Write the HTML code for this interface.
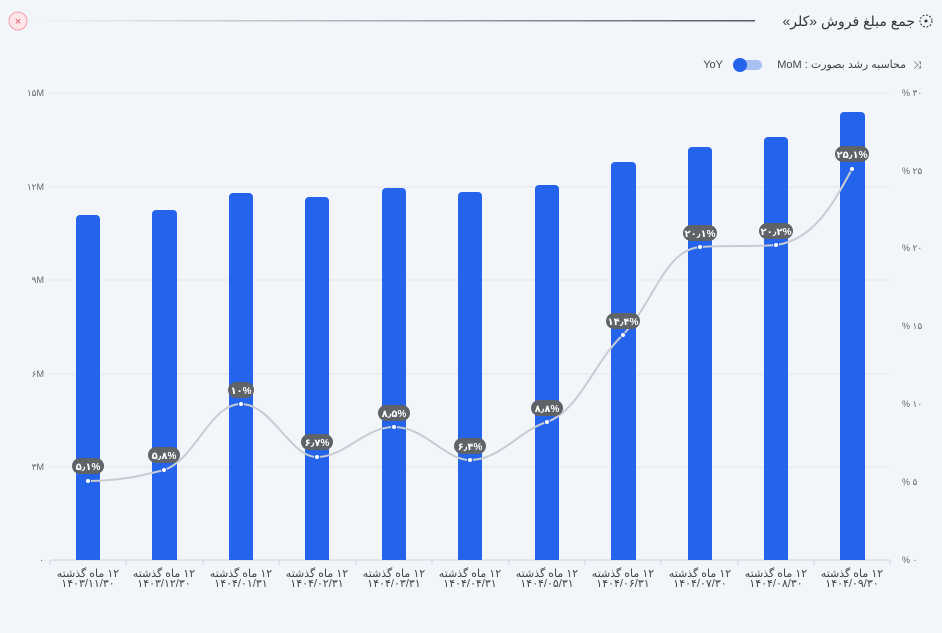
<!DOCTYPE html><html><head><meta charset="utf-8"><style>
body{margin:0;background:#f2f5f9;width:942px;height:628px;overflow:hidden;font-family:"Liberation Sans","DejaVu Sans",sans-serif}
</style></head><body>
<svg width="942" height="628" viewBox="0 0 942 628" font-family="Liberation Sans, DejaVu Sans, sans-serif">
<defs><linearGradient id="g" x1="0" x2="1"><stop offset="0" stop-color="#f2f5f9"/><stop offset="1" stop-color="#555b66"/></linearGradient></defs>
<circle cx="18" cy="21" r="9" fill="#fde5e8" stroke="#f0a0ab"/>
<text x="18" y="25" text-anchor="middle" font-size="11" fill="#e05060">×</text>
<rect x="30" y="20" width="725" height="1.5" fill="url(#g)"/>
<text x="915" y="26" direction="rtl" text-anchor="start" font-size="14" fill="#333">جمع مبلغ فروش «کلر»</text>
<circle cx="926" cy="21" r="6" fill="none" stroke="#333" stroke-dasharray="2 1.5"/><circle cx="926" cy="21" r="1.5" fill="#333"/>
<text x="906" y="68" direction="rtl" text-anchor="start" font-size="11" fill="#444">محاسبه رشد بصورت : MoM</text>
<text x="917" y="68" text-anchor="middle" font-size="10" fill="#444">⤨</text>
<rect x="735" y="60" width="27" height="10" rx="5" fill="#a9c0f3"/><circle cx="740" cy="65" r="7" fill="#2463eb"/>
<text x="723" y="68" text-anchor="end" font-size="11" fill="#444">YoY</text>
<g stroke="#e2e6ec" stroke-width="1">
<line x1="50" x2="890" y1="93" y2="93"/><line x1="50" x2="890" y1="187" y2="187"/><line x1="50" x2="890" y1="280" y2="280"/><line x1="50" x2="890" y1="374" y2="374"/><line x1="50" x2="890" y1="467" y2="467"/></g>
<line x1="50" x2="890" y1="560" y2="560" stroke="#cfd5de"/>
<g stroke="#cfd5de"><line x1="50" x2="50" y1="560" y2="565"/><line x1="126" x2="126" y1="560" y2="565"/><line x1="203" x2="203" y1="560" y2="565"/><line x1="279" x2="279" y1="560" y2="565"/><line x1="356" x2="356" y1="560" y2="565"/><line x1="432" x2="432" y1="560" y2="565"/><line x1="509" x2="509" y1="560" y2="565"/><line x1="585" x2="585" y1="560" y2="565"/><line x1="661" x2="661" y1="560" y2="565"/><line x1="738" x2="738" y1="560" y2="565"/><line x1="814" x2="814" y1="560" y2="565"/><line x1="890" x2="890" y1="560" y2="565"/></g>
<g font-size="9" fill="#666" text-anchor="end">
<text x="44" y="96">۱۵M</text><text x="44" y="190">۱۲M</text><text x="44" y="283">۹M</text><text x="44" y="377">۶M</text><text x="44" y="470">۳M</text><text x="44" y="563">۰</text></g>
<g font-size="9" fill="#666" text-anchor="start">
<text x="902" y="96">% ۳۰</text><text x="902" y="174">% ۲۵</text><text x="902" y="251">% ۲۰</text><text x="902" y="329">% ۱۵</text><text x="902" y="407">% ۱۰</text><text x="902" y="485">% ۵</text><text x="902" y="563">% ۰</text></g>
<g fill="#2463eb">
<path d="M76 560V219a4 4 0 0 1 4-4h16a4 4 0 0 1 4 4V560z"/>
<path d="M152 560V214a4 4 0 0 1 4-4h17a4 4 0 0 1 4 4V560z"/>
<path d="M229 560V197a4 4 0 0 1 4-4h16a4 4 0 0 1 4 4V560z"/>
<path d="M305 560V201a4 4 0 0 1 4-4h16a4 4 0 0 1 4 4V560z"/>
<path d="M382 560V192a4 4 0 0 1 4-4h16a4 4 0 0 1 4 4V560z"/>
<path d="M458 560V196a4 4 0 0 1 4-4h16a4 4 0 0 1 4 4V560z"/>
<path d="M535 560V189a4 4 0 0 1 4-4h16a4 4 0 0 1 4 4V560z"/>
<path d="M611 560V166a4 4 0 0 1 4-4h17a4 4 0 0 1 4 4V560z"/>
<path d="M688 560V151a4 4 0 0 1 4-4h16a4 4 0 0 1 4 4V560z"/>
<path d="M764 560V141a4 4 0 0 1 4-4h16a4 4 0 0 1 4 4V560z"/>
<path d="M840 560V116a4 4 0 0 1 4-4h17a4 4 0 0 1 4 4V560z"/>
</g>
<path d="M88 481C120 481 140 476 164 470C195 460 210 404 241 404C272 404 290 457 317 457C345 457 365 427 394 427C425 427 445 460 470 460C500 460 520 430 547 422C580 410 595 360 623 335C655 300 665 250 700 247C730 245 750 247 776 245C815 240 835 200 852 169" fill="none" stroke="#c8ccd2" stroke-width="2"/>
<g fill="#fff" stroke="#2463eb" stroke-width="1">
<circle cx="88" cy="481" r="2.5"/><circle cx="164" cy="470" r="2.5"/><circle cx="241" cy="404" r="2.5"/><circle cx="317" cy="457" r="2.5"/><circle cx="394" cy="427" r="2.5"/><circle cx="470" cy="460" r="2.5"/><circle cx="547" cy="422" r="2.5"/><circle cx="623" cy="335" r="2.5"/><circle cx="700" cy="247" r="2.5"/><circle cx="776" cy="245" r="2.5"/><circle cx="852" cy="169" r="2.5"/></g>
<g font-size="10" font-weight="bold" fill="#fff" text-anchor="middle">
<rect x="72" y="458" width="32" height="16" rx="8" fill="#5f6368"/><text x="88" y="470">۵٫۱%</text>
<rect x="148" y="447" width="32" height="16" rx="8" fill="#5f6368"/><text x="164" y="459">۵٫۸%</text>
<rect x="228" y="382" width="26" height="16" rx="8" fill="#5f6368"/><text x="241" y="394">۱۰%</text>
<rect x="301" y="434" width="32" height="16" rx="8" fill="#5f6368"/><text x="317" y="446">۶٫۷%</text>
<rect x="378" y="405" width="32" height="16" rx="8" fill="#5f6368"/><text x="394" y="417">۸٫۵%</text>
<rect x="454" y="438" width="32" height="16" rx="8" fill="#5f6368"/><text x="470" y="450">۶٫۴%</text>
<rect x="531" y="400" width="32" height="16" rx="8" fill="#5f6368"/><text x="547" y="412">۸٫۸%</text>
<rect x="606" y="313" width="34" height="16" rx="8" fill="#5f6368"/><text x="623" y="325">۱۴٫۴%</text>
<rect x="683" y="225" width="34" height="16" rx="8" fill="#5f6368"/><text x="700" y="237">۲۰٫۱%</text>
<rect x="759" y="223" width="34" height="16" rx="8" fill="#5f6368"/><text x="776" y="235">۲۰٫۲%</text>
<rect x="835" y="146" width="34" height="16" rx="8" fill="#5f6368"/><text x="852" y="158">۲۵٫۱%</text>
</g>
<g font-size="11" fill="#444" text-anchor="middle" direction="rtl">
<text x="88" y="577">۱۲ ماه گذشته</text><text x="88" y="587">۱۴۰۳/۱۱/۳۰</text>
<text x="164" y="577">۱۲ ماه گذشته</text><text x="164" y="587">۱۴۰۳/۱۲/۳۰</text>
<text x="241" y="577">۱۲ ماه گذشته</text><text x="241" y="587">۱۴۰۴/۰۱/۳۱</text>
<text x="317" y="577">۱۲ ماه گذشته</text><text x="317" y="587">۱۴۰۴/۰۲/۳۱</text>
<text x="394" y="577">۱۲ ماه گذشته</text><text x="394" y="587">۱۴۰۴/۰۳/۳۱</text>
<text x="470" y="577">۱۲ ماه گذشته</text><text x="470" y="587">۱۴۰۴/۰۴/۳۱</text>
<text x="547" y="577">۱۲ ماه گذشته</text><text x="547" y="587">۱۴۰۴/۰۵/۳۱</text>
<text x="623" y="577">۱۲ ماه گذشته</text><text x="623" y="587">۱۴۰۴/۰۶/۳۱</text>
<text x="700" y="577">۱۲ ماه گذشته</text><text x="700" y="587">۱۴۰۴/۰۷/۳۰</text>
<text x="776" y="577">۱۲ ماه گذشته</text><text x="776" y="587">۱۴۰۴/۰۸/۳۰</text>
<text x="852" y="577">۱۲ ماه گذشته</text><text x="852" y="587">۱۴۰۴/۰۹/۳۰</text>
</g>
</svg>
</body></html>
